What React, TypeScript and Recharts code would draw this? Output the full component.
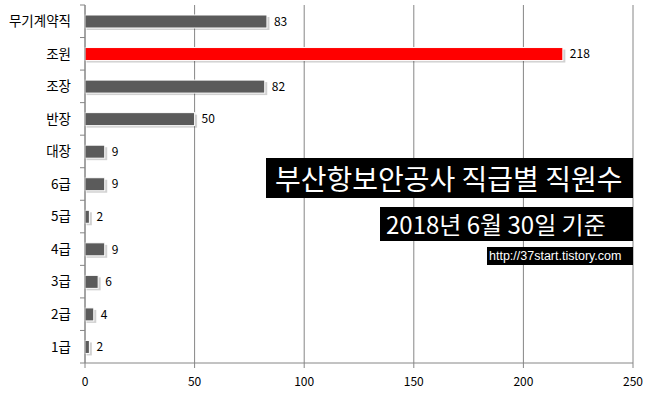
import React from 'react';
import { BarChart, Bar, XAxis, YAxis, CartesianGrid, Cell, LabelList } from 'recharts';

const categories = ['무기계약직', '조원', '조장', '반장', '대장', '6급', '5급', '4급', '3급', '2급', '1급'];
const values = [83, 218, 82, 50, 9, 9, 2, 9, 6, 4, 2];
const highlighted = '조원';
const xTicks = [0, 50, 100, 150, 200, 250];
const titleText = '부산항보안공사 직급별 직원수';
const subtitleText = '2018년 6월 30일 기준';
const sourceText = 'http://37start.tistory.com';

const data = categories.map((name, i) => ({ name, value: values[i] }));

const W = 656;
const H = 397;
const MARGIN = { top: 5, right: 23, left: 0, bottom: 0 };
const Y_AXIS_W = 85;
const X_AXIS_H = 34;
const AXIS_COLOR = '#868686';
const BAR_COLOR = '#5b5b5b';
const HIGHLIGHT_COLOR = '#ff0000';
const KR_FONT = '"Noto Sans CJK KR", "Noto Sans", sans-serif';

const plotTop = MARGIN.top;
const plotBottom = H - MARGIN.bottom - X_AXIS_H;
const band = (plotBottom - plotTop) / categories.length;

const YTick = (props: any) => {
  const { y, payload, index } = props;
  const ax = MARGIN.left + Y_AXIS_W;
  return (
    <g>
      <line x1={ax - 5} x2={ax} y1={y - band / 2} y2={y - band / 2} stroke={AXIS_COLOR} strokeWidth={1} />
      {index === categories.length - 1 ? (
        <line x1={ax - 5} x2={ax} y1={y + band / 2} y2={y + band / 2} stroke={AXIS_COLOR} strokeWidth={1} />
      ) : null}
      <text x={ax - 14} y={y} dy="0.36em" textAnchor="end" fill="#000" fontSize={13.5} fontFamily={KR_FONT}>
        {payload.value}
      </text>
    </g>
  );
};

const BarShape = (props: any) => {
  const { x, y, width, height, fill } = props;
  if (width == null || height == null) return null;
  return (
    <g>
      <rect x={x + 1.5} y={y + 2} width={width + 1} height={height} fill="rgba(0,0,0,0.18)" />
      <rect x={x} y={y} width={width} height={height} fill={fill} stroke="#ffffff" strokeWidth={1} />
    </g>
  );
};

export default function App() {
  return (
    <div style={{ position: 'absolute', left: 0, top: 0, width: W, height: H, background: '#fff' }}>
      <BarChart width={W} height={H} data={data} layout="vertical" margin={MARGIN} barSize={13}>
        <CartesianGrid horizontal={false} vertical={true} stroke={AXIS_COLOR} strokeWidth={1} />
        <XAxis
          type="number"
          domain={[0, 250]}
          ticks={xTicks}
          height={X_AXIS_H}
          stroke={AXIS_COLOR}
          tickSize={5}
          tickMargin={9}
          tick={{ fill: '#000', fontSize: 12, fontFamily: KR_FONT }}
          interval={0}
        />
        <YAxis
          type="category"
          dataKey="name"
          width={Y_AXIS_W}
          stroke={AXIS_COLOR}
          tickLine={false}
          tick={<YTick />}
          interval={0}
        />
        <Bar dataKey="value" isAnimationActive={false} shape={<BarShape />}>
          {data.map((d) => (
            <Cell key={d.name} fill={d.name === highlighted ? HIGHLIGHT_COLOR : BAR_COLOR} />
          ))}
          <LabelList dataKey="value" position="right" offset={7} fill="#000" fontSize={12} fontFamily={KR_FONT} />
        </Bar>
      </BarChart>
      <div
        style={{
          position: 'absolute', left: 266, top: 158, width: 367, height: 40, background: '#000', color: '#fff',
          fontFamily: KR_FONT, fontSize: 28, lineHeight: '40px', paddingLeft: 9, boxSizing: 'border-box', whiteSpace: 'nowrap', overflow: 'hidden',
        }}
      >
        {titleText}
      </div>
      <div
        style={{
          position: 'absolute', left: 380, top: 207, width: 253, height: 34, background: '#000', color: '#fff',
          fontFamily: KR_FONT, fontSize: 24, lineHeight: '34px', paddingLeft: 6, boxSizing: 'border-box', whiteSpace: 'nowrap', overflow: 'hidden',
        }}
      >
        {subtitleText}
      </div>
      <div
        style={{
          position: 'absolute', left: 487, top: 247, width: 146, height: 18, background: '#000', color: '#fff',
          fontFamily: '"Liberation Sans", Arial, sans-serif', fontSize: 12.5, lineHeight: '18px', paddingLeft: 2, boxSizing: 'border-box', whiteSpace: 'nowrap', overflow: 'hidden',
        }}
      >
        {sourceText}
      </div>
    </div>
  );
}
